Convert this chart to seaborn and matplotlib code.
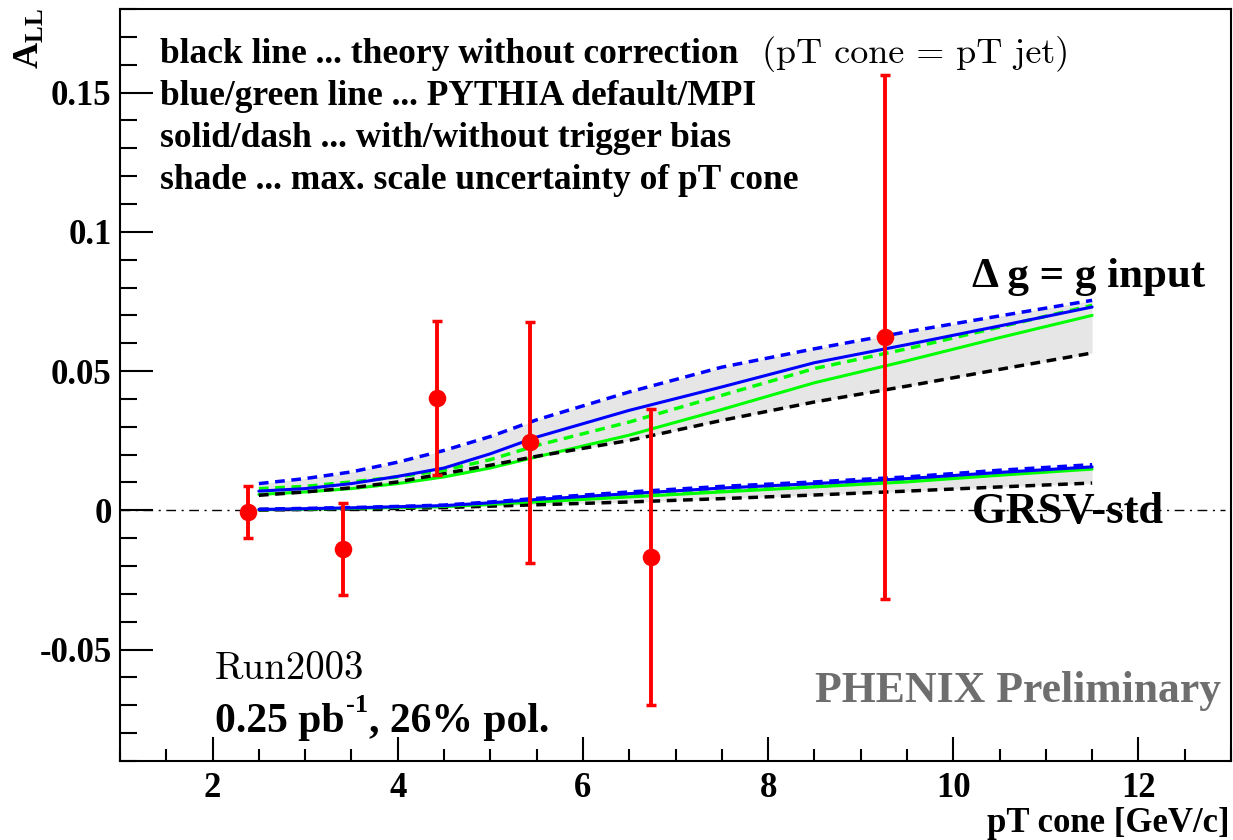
import numpy as np
import pandas as pd
import matplotlib
matplotlib.use("Agg")
import matplotlib.pyplot as plt
from matplotlib.ticker import MultipleLocator
import seaborn as sns

# ---- data -------------------------------------------------------------
pt_data = [2.38, 3.41, 4.42, 5.43, 6.74, 9.26]
all_data = [-0.0007, -0.0138, 0.0402, 0.0244, -0.0168, 0.0622]
all_err = [0.0093, 0.0166, 0.0276, 0.0432, 0.0532, 0.0940]

pt_theory = [2.5, 3.0, 3.5, 4.0, 4.5, 5.0, 5.5, 6.5, 7.5, 8.5, 9.5, 10.5, 11.5]

# Delta g = g input
dg_blue_dash = [0.0096, 0.0114, 0.0138, 0.0173, 0.0215, 0.0265, 0.0325, 0.0425, 0.0514, 0.0580, 0.0641, 0.0698, 0.0754]
dg_blue_solid = [0.0069, 0.0078, 0.0096, 0.0122, 0.0152, 0.0203, 0.0263, 0.0359, 0.0443, 0.0530, 0.0595, 0.0662, 0.0730]
dg_green_dash = [0.0078, 0.0086, 0.0102, 0.0120, 0.0144, 0.0182, 0.0233, 0.0317, 0.0413, 0.0509, 0.0580, 0.0658, 0.0736]
dg_green_solid = [0.0057, 0.0066, 0.0078, 0.0096, 0.0120, 0.0152, 0.0192, 0.0270, 0.0362, 0.0458, 0.0537, 0.0620, 0.0700]
dg_black_dash = [0.0054, 0.0066, 0.0081, 0.0102, 0.0132, 0.0162, 0.0194, 0.0251, 0.0323, 0.0389, 0.0446, 0.0506, 0.0565]

# GRSV-std
grsv_blue_dash = [0.0004, 0.0007, 0.0010, 0.0014, 0.0019, 0.0030, 0.0043, 0.0066, 0.0086, 0.0102, 0.0120, 0.0144, 0.0164]
grsv_blue_solid = [0.0003, 0.0006, 0.0009, 0.0013, 0.0017, 0.0027, 0.0039, 0.0060, 0.0080, 0.0096, 0.0114, 0.0136, 0.0156]
grsv_green_dash = [0.0003, 0.0005, 0.0008, 0.0011, 0.0015, 0.0023, 0.0033, 0.0051, 0.0069, 0.0087, 0.0105, 0.0129, 0.0153]
grsv_green_solid = [0.0002, 0.0004, 0.0007, 0.0010, 0.0013, 0.0021, 0.0030, 0.0048, 0.0066, 0.0084, 0.0102, 0.0126, 0.0148]
grsv_black_dash = [0.0001, 0.0003, 0.0005, 0.0007, 0.0010, 0.0015, 0.0020, 0.0030, 0.0042, 0.0055, 0.0069, 0.0084, 0.0098]

legend_lines = [
    "black line ... theory without correction",
    "blue/green line ... PYTHIA default/MPI",
    "solid/dash ... with/without trigger bias",
    "shade ... max. scale uncertainty of pT cone",
]

# ---- style ------------------------------------------------------------
sns.set_style("white")
plt.rcParams["font.family"] = ["Liberation Serif", "DejaVu Serif"]
plt.rcParams["mathtext.fontset"] = "custom"
plt.rcParams["mathtext.rm"] = "Liberation Serif:bold"
plt.rcParams["mathtext.it"] = "Liberation Serif:bold"
plt.rcParams["mathtext.bf"] = "Liberation Serif:bold"
for key in ["text.color", "axes.labelcolor", "xtick.color", "ytick.color",
            "axes.edgecolor"]:
    plt.rcParams[key] = "black"

W, H = 1233, 840
fig = plt.figure(figsize=(W / 100, H / 100), dpi=100)
fig.patch.set_facecolor("white")
ax = fig.add_axes([120 / W, 1 - 761 / H, (1231 - 120) / W, (761 - 9) / H])
ax.set_facecolor("white")


def fpos(x, y):
    return x / W, 1 - y / H


BLUE, GREEN, RED = "#0000ff", "#00ff00", "#ff0000"
SHADE = "#e6e6e6"
DASH = (2.8, 1.9)

families = [
    (dg_blue_dash, dg_blue_solid, dg_green_dash, dg_green_solid, dg_black_dash),
    (grsv_blue_dash, grsv_blue_solid, grsv_green_dash, grsv_green_solid, grsv_black_dash),
]

for bd, bs, gd, gs, kd in families:
    stack = np.vstack([bd, bs, gd, gs, kd])
    ax.fill_between(pt_theory, stack.min(axis=0), stack.max(axis=0),
                    color=SHADE, lw=0, zorder=1)
    sns.lineplot(x=pt_theory, y=gs, ax=ax, color=GREEN, lw=2.2, zorder=2)
    sns.lineplot(x=pt_theory, y=kd, ax=ax, color="black", lw=2.5,
                 linestyle=(0, DASH), zorder=3)
    sns.lineplot(x=pt_theory, y=gd, ax=ax, color=GREEN, lw=2.5,
                 linestyle=(0, DASH), zorder=3)
    sns.lineplot(x=pt_theory, y=bs, ax=ax, color=BLUE, lw=2.2, zorder=4)
    sns.lineplot(x=pt_theory, y=bd, ax=ax, color=BLUE, lw=2.5,
                 linestyle=(0, DASH), zorder=5)

# zero reference line
ax.axhline(0, xmin=0, xmax=0.995, color="black", lw=1.0,
           linestyle=(0, (7, 4, 1.5, 4)), zorder=2)

# measured asymmetries
ax.errorbar(pt_data, all_data, yerr=all_err, fmt="none", ecolor=RED,
            elinewidth=2.8, capsize=3.5, capthick=2.5, zorder=6)
sns.scatterplot(x=pt_data, y=all_data, ax=ax, color=RED, s=160,
                edgecolor=RED, linewidth=0, zorder=7)

# ---- axes -------------------------------------------------------------
ax.set_xlim(1, 13)
ax.set_ylim(-0.09, 0.18)
ax.xaxis.set_minor_locator(MultipleLocator(0.5))
ax.yaxis.set_minor_locator(MultipleLocator(0.01))
ax.set_xticks([2, 4, 6, 8, 10, 12])
ax.set_xticklabels(["2", "4", "6", "8", "10", "12"])
ax.set_yticks([-0.05, 0, 0.05, 0.1, 0.15])
ax.set_yticklabels(["-0.05", "0", "0.05", "0.1", "0.15"])
ax.tick_params(axis="both", which="both", direction="in", width=1.5,
               bottom=True, left=True, top=False, right=False,
               colors="black")
ax.tick_params(axis="y", which="major", length=24, pad=6)
ax.tick_params(axis="y", which="minor", length=12)
ax.tick_params(axis="x", which="major", length=17, pad=8)
ax.tick_params(axis="x", which="minor", length=9)
for lab in ax.get_xticklabels() + ax.get_yticklabels():
    lab.set_fontsize(25)
    lab.set_fontweight("bold")
    lab.set_family("Liberation Serif")
    lab.set_color("black")
for sp in ax.spines.values():
    sp.set_visible(True)
    sp.set_color("black")
    sp.set_linewidth(1.5)
ax.set_xlabel("")
ax.set_ylabel("")

# axis titles
fig.text(*fpos(1230, 832), "pT cone [GeV/c]", ha="right", va="baseline",
         fontsize=25, fontweight="bold")
fig.text(*fpos(30, 8), r"A$_{LL}$", rotation=90, ha="center", va="top",
         fontsize=26, fontweight="bold")

# ---- annotations ------------------------------------------------------
baselines = [63, 105, 147, 189]
for txt, yb in zip(legend_lines, baselines):
    fig.text(*fpos(160, yb), txt, ha="left", va="baseline",
             fontsize=25.5, fontweight="bold")
fig.text(*fpos(762, 63), "(pT cone = pT jet)", ha="left", va="baseline",
         fontsize=26, family="cmr10")

fig.text(*fpos(972, 287), "\u0394 g = g input", ha="left", va="baseline",
         fontsize=31, fontweight="bold")
fig.text(*fpos(972, 523), "GRSV-std", ha="left", va="baseline",
         fontsize=32, fontweight="bold")
fig.text(*fpos(815, 702), "PHENIX Preliminary", ha="left", va="baseline",
         fontsize=31.5, fontweight="bold", color="#6e6e6e")
fig.text(*fpos(215, 679), "Run2003", ha="left", va="baseline",
         fontsize=28, family="cmr10")

# luminosity line: base text, raised "-1", then the rest
renderer = fig.canvas.get_renderer()
t1 = fig.text(*fpos(215, 732), "0.25 pb", ha="left", va="baseline",
              fontsize=30, fontweight="bold")
x_end = t1.get_window_extent(renderer).x1
t2 = fig.text((x_end + 1) / W, 1 - 712 / H, "-1", ha="left", va="baseline",
              fontsize=19, fontweight="bold")
x_end = t2.get_window_extent(renderer).x1
fig.text((x_end + 1) / W, 1 - 732 / H, ", 26% pol.", ha="left",
         va="baseline", fontsize=30, fontweight="bold")

fig.savefig("out.png", dpi=100, facecolor="white")
